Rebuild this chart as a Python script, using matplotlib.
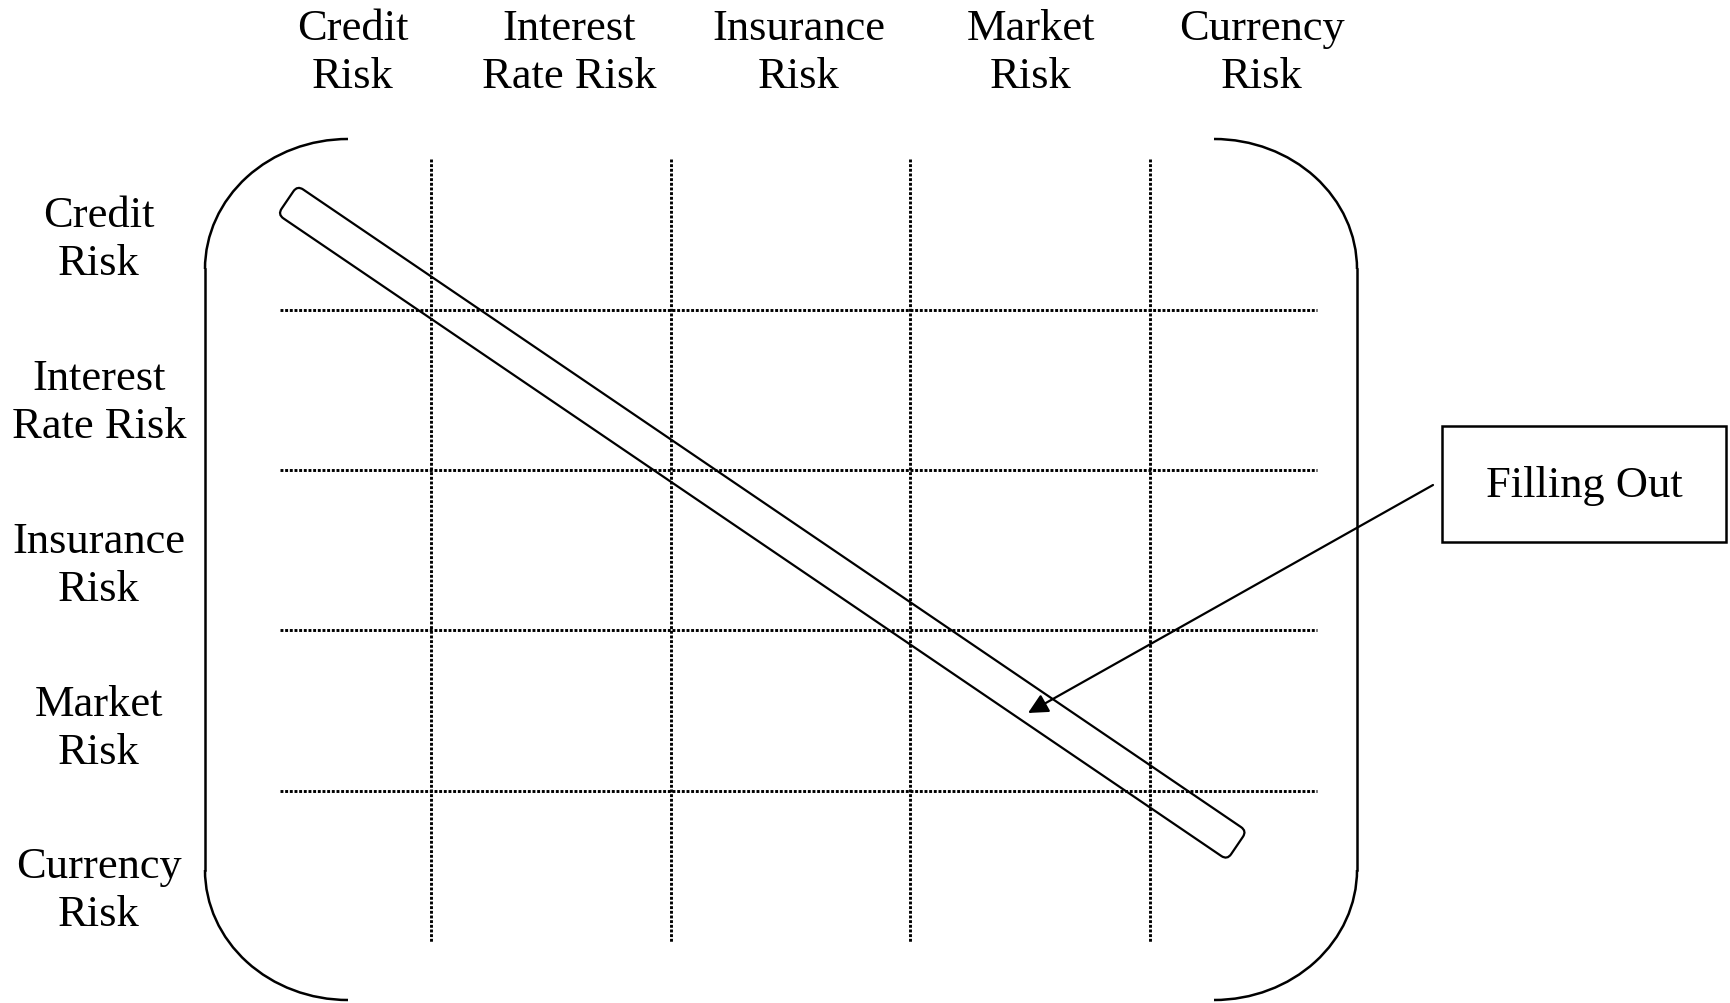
import numpy as np
import matplotlib.pyplot as plt
from matplotlib.patches import Arc, Rectangle, FancyBboxPatch
from matplotlib.transforms import Affine2D

# risk categories (same for rows and columns)
risks = ["Credit\nRisk", "Interest\nRate Risk", "Insurance\nRisk",
         "Market\nRisk", "Currency\nRisk"]
callout = "Filling Out"

# layout, in pixels of the 1731x1004 canvas
col_label_x = [353, 569, 799, 1031, 1262]
row_label_y = [240, 403, 566, 729, 891]
vgrid_x = [431, 671, 910, 1150]
hgrid_y = [311, 471, 631, 792]


def main():
    plt.rcParams['font.family'] = ['Liberation Serif', 'DejaVu Serif']

    fig = plt.figure(figsize=(17.31, 10.04), dpi=100)
    ax = fig.add_axes([0, 0, 1, 1])
    ax.set_xlim(0, 1731)
    ax.set_ylim(1004, 0)
    ax.axis('off')

    fs = 32
    ls = 1.27
    # column and row headings
    for x, lab in zip(col_label_x, risks):
        ax.text(x, 53, lab, ha='center', va='center', fontsize=fs,
                linespacing=ls)
    for y, lab in zip(row_label_y, risks):
        ax.text(99, y, lab, ha='center', va='center', fontsize=fs,
                linespacing=ls)

    # dotted grid
    dots = dict(color='black', lw=2.1, linestyle=(0, (1, 0.6)))
    for x in vgrid_x:
        ax.plot([x, x], [160, 944], **dots)
    for y in hgrid_y:
        ax.plot([280, 1317], [y, y], **dots)

    # matrix brackets
    lw = 1.8
    rx, ry = 143, 130
    ax.add_patch(Arc((205 + rx, 140 + ry), 2 * rx, 2 * ry, theta1=180,
                     theta2=270, lw=lw))
    ax.add_patch(Arc((205 + rx, 1001 - ry), 2 * rx, 2 * ry, theta1=90,
                     theta2=180, lw=lw))
    ax.plot([205, 205], [140 + ry, 1001 - ry], color='black', lw=lw)
    ax.add_patch(Arc((1357 - rx, 140 + ry), 2 * rx, 2 * ry, theta1=270,
                     theta2=360, lw=lw))
    ax.add_patch(Arc((1357 - rx, 1001 - ry), 2 * rx, 2 * ry, theta1=0,
                     theta2=90, lw=lw))
    ax.plot([1357, 1357], [140 + ry, 1001 - ry], color='black', lw=lw)

    # diagonal rounded bar
    p0 = np.array([287.5, 201.0])
    p1 = np.array([1237.0, 846.5])
    c = (p0 + p1) / 2
    length = np.hypot(*(p1 - p0))
    ang = np.degrees(np.arctan2(p1[1] - p0[1], p1[0] - p0[0]))
    width = 35
    bar = FancyBboxPatch((c[0] - length / 2, c[1] - width / 2), length, width,
                         boxstyle="round,pad=0,rounding_size=7",
                         fc='none', ec='black', lw=1.6)
    bar.set_transform(Affine2D().rotate_deg_around(c[0], c[1], ang)
                      + ax.transData)
    ax.add_patch(bar)

    # callout box and arrow
    ax.add_patch(Rectangle((1442, 427), 284, 116, fc='white', ec='black',
                           lw=1.8))
    ax.text(1584, 486, callout, ha='center', va='center', fontsize=fs)
    ax.annotate('', xy=(1028, 714), xytext=(1433, 486),
                arrowprops=dict(arrowstyle='-|>', mutation_scale=30,
                                lw=1.6, color='black', shrinkA=0,
                                shrinkB=0))

    fig.savefig('out.png', dpi=100, facecolor='white')


if __name__ == "__main__":
    main()
